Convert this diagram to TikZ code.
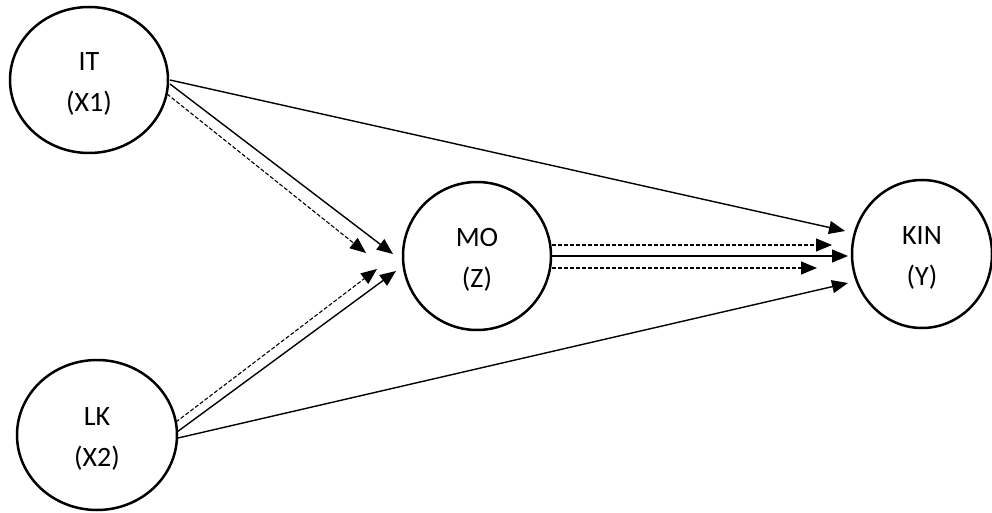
\documentclass[tikz,border=0pt]{standalone}
\usepackage{fontspec}
\setmainfont{Carlito}
\usetikzlibrary{shapes.geometric,arrows.meta,calc}

\tikzset{
  var/.style={ellipse, draw, line width=2.5pt, inner sep=0pt},
  vartext/.style={align=center, inner sep=0pt, yshift=-4pt,
    font=\fontsize{28}{41}\selectfont},
  arr/.style={line width=1.4pt, -{Triangle[length=16pt,width=13pt]}},
  dasharr/.style={arr, line width=1.1pt, dash pattern=on 4pt off 2pt}
}

\begin{document}
\begin{tikzpicture}[x=1pt,y=-1pt]
  \useasboundingbox (0,0) rectangle (992,513);

  % variables
  \node[var, minimum width=158pt, minimum height=146pt,
        label={[vartext, name=ITt]center:IT\\(X1)}] (IT) at (89,80) {};
  \node[var, minimum width=160pt, minimum height=150pt,
        label={[vartext, name=LKt]center:LK\\(X2)}] (LK) at (97,435) {};
  \node[var, minimum width=148pt, minimum height=148pt,
        label={[vartext, name=MOt]center:MO\\(Z)}] (MO) at (477,256) {};
  \node[var, minimum width=140pt, minimum height=148pt,
        label={[vartext, name=KINt]center:KIN\\(Y)}] (KIN) at (922,254) {};

  % direct effects
  \draw[arr] ($(IT)+(81,0)$)  -- ($(KIN)+(-77,-23)$);
  \draw[arr] ($(LK)+(81,3)$)  -- ($(KIN)+(-74,29)$);

  % effects on the mediator
  \draw[arr]     ($(IT)+(81,4)$)   -- ($(MO)+(-84,-2)$);
  \draw[dasharr] ($(IT)+(78,14)$)  -- ($(MO)+(-111,-3)$);
  \draw[arr]     ($(LK)+(80,-3)$)  -- ($(MO)+(-81,15)$);
  \draw[dasharr] ($(LK)+(79,-13)$) -- ($(MO)+(-100,13)$);

  % mediator to outcome
  \draw[dasharr] ($(MO)+(75,-11)$) -- ($(KIN)+(-90,-9)$);
  \draw[arr]     ($(MO)+(75,0)$)   -- ($(KIN)+(-74,2)$);
  \draw[dasharr] ($(MO)+(75,12)$)  -- ($(KIN)+(-105,14)$);
\end{tikzpicture}
\end{document}
